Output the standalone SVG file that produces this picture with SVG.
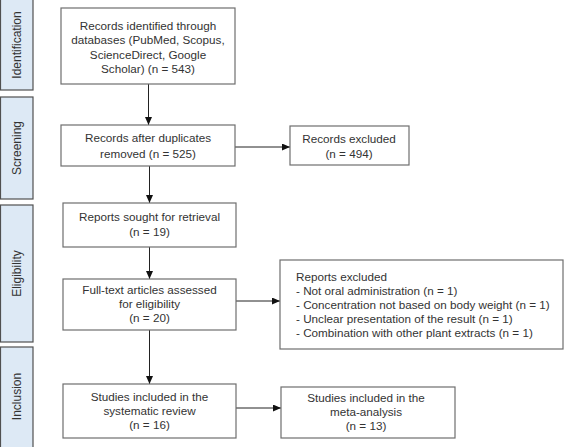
<svg xmlns="http://www.w3.org/2000/svg" width="564" height="447" viewBox="0 0 564 447">
<style>
.bar{fill:#dde9f5;stroke:#505050;stroke-width:1.2}
.box{fill:#fff;stroke:#6e6e6e;stroke-width:1.2}
text{font-family:"Liberation Sans",Arial,sans-serif;font-size:11.7px;fill:#333}
.c{text-anchor:middle}
.side{font-size:12px;text-anchor:middle}
.conn{stroke:#222;stroke-width:1;fill:none;marker-end:url(#ah)}
</style>
<defs>
<marker id="ah" viewBox="0 0 8 7" refX="8" refY="3.5" markerWidth="8" markerHeight="7" markerUnits="userSpaceOnUse" orient="auto">
<path d="M0,0 L8,3.5 L0,7 Z" fill="#111"/>
</marker>
</defs>
<rect width="564" height="447" fill="#fff"/>
<g id="phase-identification">
<rect class="bar" x="0.5" y="-1" width="32.5" height="91"/>
<text class="side" transform="translate(21.3,45) rotate(-90)">Identification</text>
</g>
<g id="phase-screening">
<rect class="bar" x="0.5" y="97" width="32.5" height="102"/>
<text class="side" transform="translate(21.3,148) rotate(-90)">Screening</text>
</g>
<g id="phase-eligibility">
<rect class="bar" x="0.5" y="205" width="32.5" height="137"/>
<text class="side" transform="translate(21.3,273.5) rotate(-90)">Eligibility</text>
</g>
<g id="phase-inclusion">
<rect class="bar" x="0.5" y="347" width="32.5" height="101"/>
<text class="side" transform="translate(21.3,396.5) rotate(-90)">Inclusion</text>
</g>
<g id="connectors">
<line class="conn" x1="148.5" y1="84" x2="148.5" y2="125"/>
<line class="conn" x1="149.5" y1="166" x2="149.5" y2="203"/>
<line class="conn" x1="149.5" y1="247" x2="149.5" y2="279"/>
<line class="conn" x1="149.5" y1="330" x2="149.5" y2="384"/>
<line class="conn" x1="235" y1="147" x2="290" y2="147"/>
<line class="conn" x1="236" y1="301" x2="280" y2="301"/>
<line class="conn" x1="236" y1="408" x2="281" y2="408"/>
</g>
<g id="records-identified">
<rect class="box" x="61" y="8" width="174" height="76"/>
<text class="c" x="148" y="30">Records identified through</text>
<text class="c" x="148" y="44.3">databases (PubMed, Scopus,</text>
<text class="c" x="148" y="58.6">ScienceDirect, Google</text>
<text class="c" x="148" y="72.9">Scholar) (n = 543)</text>
</g>
<g id="records-after-duplicates">
<rect class="box" x="61" y="125" width="174" height="41"/>
<text class="c" x="148" y="142">Records after duplicates</text>
<text class="c" x="148" y="157.5">removed (n = 525)</text>
</g>
<g id="records-excluded">
<rect class="box" x="290" y="126" width="119" height="39"/>
<text class="c" x="349" y="142.5">Records excluded</text>
<text class="c" x="349" y="157.5">(n = 494)</text>
</g>
<g id="reports-sought">
<rect class="box" x="63" y="203" width="173" height="44"/>
<text class="c" x="149.5" y="221">Reports sought for retrieval</text>
<text class="c" x="149.5" y="235.5">(n = 19)</text>
</g>
<g id="full-text-assessed">
<rect class="box" x="63" y="279" width="173" height="51"/>
<text class="c" x="149.5" y="294">Full-text articles assessed</text>
<text class="c" x="149.5" y="308">for eligibility</text>
<text class="c" x="149.5" y="321.8">(n = 20)</text>
</g>
<g id="reports-excluded">
<rect class="box" x="280" y="260" width="283" height="89"/>
<text x="296" y="280.5">Reports excluded</text>
<text x="296" y="294.5">- Not oral administration (n = 1)</text>
<text x="296" y="308.5">- Concentration not based on body weight (n = 1)</text>
<text x="296" y="322.5">- Unclear presentation of the result (n = 1)</text>
<text x="296" y="336.5">- Combination with other plant extracts (n = 1)</text>
</g>
<g id="studies-systematic-review">
<rect class="box" x="63" y="384" width="173" height="54"/>
<text class="c" x="149.5" y="401">Studies included in the</text>
<text class="c" x="149.5" y="415">systematic review</text>
<text class="c" x="149.5" y="429">(n = 16)</text>
</g>
<g id="studies-meta-analysis">
<rect class="box" x="281" y="387" width="174" height="51"/>
<text class="c" x="366" y="402">Studies included in the</text>
<text class="c" x="366" y="416">meta-analysis</text>
<text class="c" x="366" y="430">(n = 13)</text>
</g>
</svg>
